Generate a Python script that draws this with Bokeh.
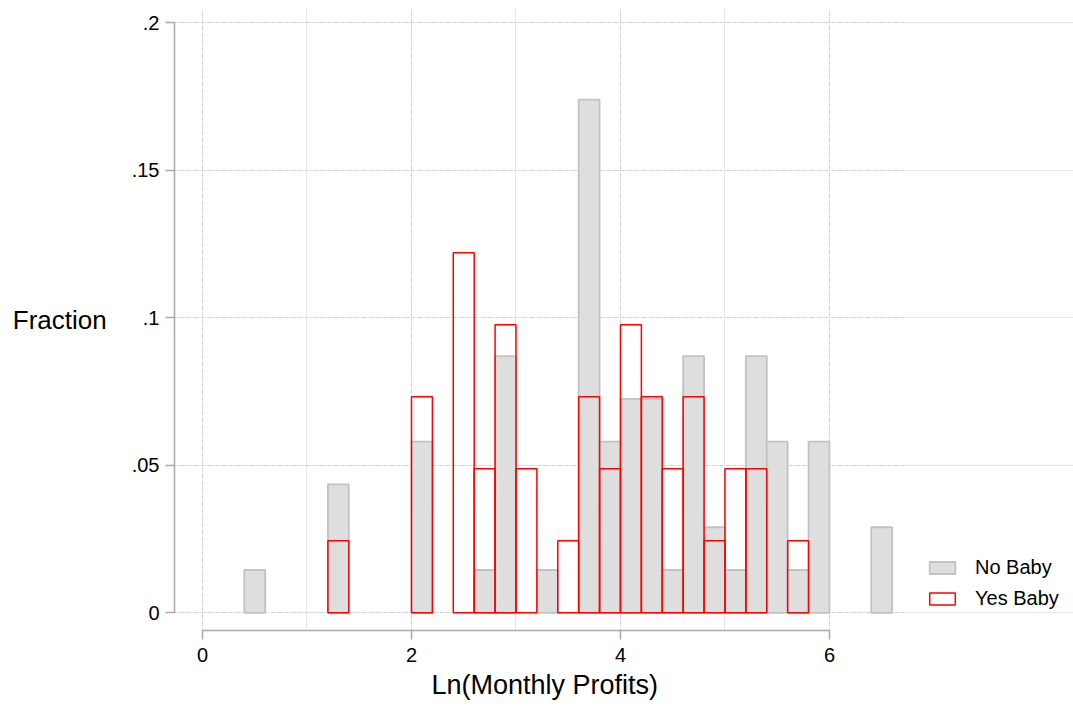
from bokeh.plotting import figure
from bokeh.models import FixedTicker, Legend, LegendItem, LinearAxis, Range1d, Grid, Title
from bokeh.embed import file_html
from bokeh.resources import INLINE

# ---- data ----
BIN_WIDTH = 0.2
no_baby_left = [0.4, 1.2, 2.0, 2.6, 2.8, 3.2, 3.6, 3.8, 4.0, 4.2, 4.4, 4.6, 4.8, 5.0, 5.2, 5.4, 5.6, 5.8, 6.4]
no_baby_frac = [0.0145, 0.0435, 0.0580, 0.0145, 0.0870, 0.0145, 0.1739, 0.0580, 0.0725, 0.0725,
                0.0145, 0.0870, 0.0290, 0.0145, 0.0870, 0.0580, 0.0145, 0.0580, 0.0290]
yes_baby_left = [1.2, 2.0, 2.4, 2.6, 2.8, 3.0, 3.4, 3.6, 3.8, 4.0, 4.2, 4.4, 4.6, 4.8, 5.0, 5.2, 5.6]
yes_baby_frac = [0.0244, 0.0732, 0.1220, 0.0488, 0.0976, 0.0488, 0.0244, 0.0732, 0.0488, 0.0976,
                 0.0732, 0.0488, 0.0732, 0.0244, 0.0488, 0.0488, 0.0244]
x_ticks = [0, 2, 4, 6]
y_ticks = [0, 0.05, 0.1, 0.15, 0.2]
y_tick_labels = ["0", ".05", ".1", ".15", ".2"]
series_names = ["No Baby", "Yes Baby"]
x_title = "Ln(Monthly Profits)"
y_title = "Fraction"

FONT = "Liberation Sans"
AXIS_COLOR = "#a9a9a9"

# plot region spans x in [X_LO, X_HI]; the frame continues to the right to hold the legend
X_LO, X_HI = -0.268, 6.766
Y_LO, Y_HI = -0.006, 0.2048
PX_PER_X = 735 / (X_HI - X_LO)
FRAME_W = 899

p = figure(frame_width=FRAME_W, frame_height=622, output_backend="svg", toolbar_location=None,
           x_range=Range1d(X_LO, X_LO + FRAME_W / PX_PER_X), y_range=Range1d(Y_LO, Y_HI),
           x_axis_location=None, y_axis_location=None,
           min_border_left=174, min_border_right=0, min_border_top=8, min_border_bottom=70)
p.outline_line_color = None
p.background_fill_color = "white"
p.border_fill_color = "white"

xaxis = LinearAxis(ticker=FixedTicker(ticks=x_ticks), bounds=(0, 6))
yaxis = LinearAxis(ticker=FixedTicker(ticks=y_ticks), bounds=(0, 0.2), axis_label=y_title)
yaxis.major_label_overrides = {t: l for t, l in zip(y_ticks, y_tick_labels)}
for ax in (xaxis, yaxis):
    ax.axis_line_color = AXIS_COLOR
    ax.axis_line_width = 1.5
    ax.major_tick_line_color = AXIS_COLOR
    ax.major_tick_line_width = 1.5
    ax.major_tick_out = 9
    ax.major_tick_in = 0
    ax.minor_tick_line_color = None
    ax.major_label_text_font = FONT
    ax.major_label_text_font_size = "20px"
    ax.major_label_text_color = "black"
    ax.axis_label_text_font = FONT
    ax.axis_label_text_font_style = "normal"
    ax.axis_label_text_color = "black"
yaxis.major_label_standoff = 6
xaxis.major_label_standoff = 8
yaxis.axis_label_text_font_size = "26px"
yaxis.major_label_orientation = "horizontal"
yaxis.axis_label_orientation = "horizontal"
yaxis.axis_label_standoff = 22
p.add_layout(xaxis, "below")
p.add_layout(yaxis, "left")

xtitle = Title(text=x_title, align="left", offset=257, standoff=6,
               text_font=FONT, text_font_size="27px", text_font_style="normal",
               text_color="black")
p.add_layout(xtitle, "below")

xgrid = Grid(dimension=0, ticker=xaxis.ticker, cross_bounds=(Y_LO, Y_HI))
ygrid = Grid(dimension=1, ticker=yaxis.ticker, cross_bounds=(X_LO, X_HI))
for g in (xgrid, ygrid):
    g.grid_line_color = "#b0b0b0"
    g.grid_line_dash = "1 6"
    g.grid_line_width = 1.2
    p.add_layout(g)

no_right = [l + BIN_WIDTH for l in no_baby_left]
yes_right = [l + BIN_WIDTH for l in yes_baby_left]

r_no = p.quad(left=no_baby_left, right=no_right, bottom=0, top=no_baby_frac,
              fill_color="#dedede", line_color="#c2c2c2", line_width=1.8)
r_yes = p.quad(left=yes_baby_left, right=yes_right, bottom=0, top=yes_baby_frac,
               fill_color=None, line_color="#ff0000", line_width=1.5)

legend = Legend(items=[LegendItem(label=series_names[0], renderers=[r_no]),
                       LegendItem(label=series_names[1], renderers=[r_yes])],
                location=(752, 20), orientation="vertical")
legend.glyph_width = 32
legend.glyph_height = 15
legend.label_standoff = 17
legend.spacing = 8
legend.padding = 0
legend.margin = 0
legend.border_line_color = None
legend.background_fill_color = None
legend.label_text_font = FONT
legend.label_text_font_size = "20px"
legend.label_text_color = "black"
legend.label_height = 15
p.add_layout(legend, "center")

open("out.html", "w").write(file_html(p, INLINE))
